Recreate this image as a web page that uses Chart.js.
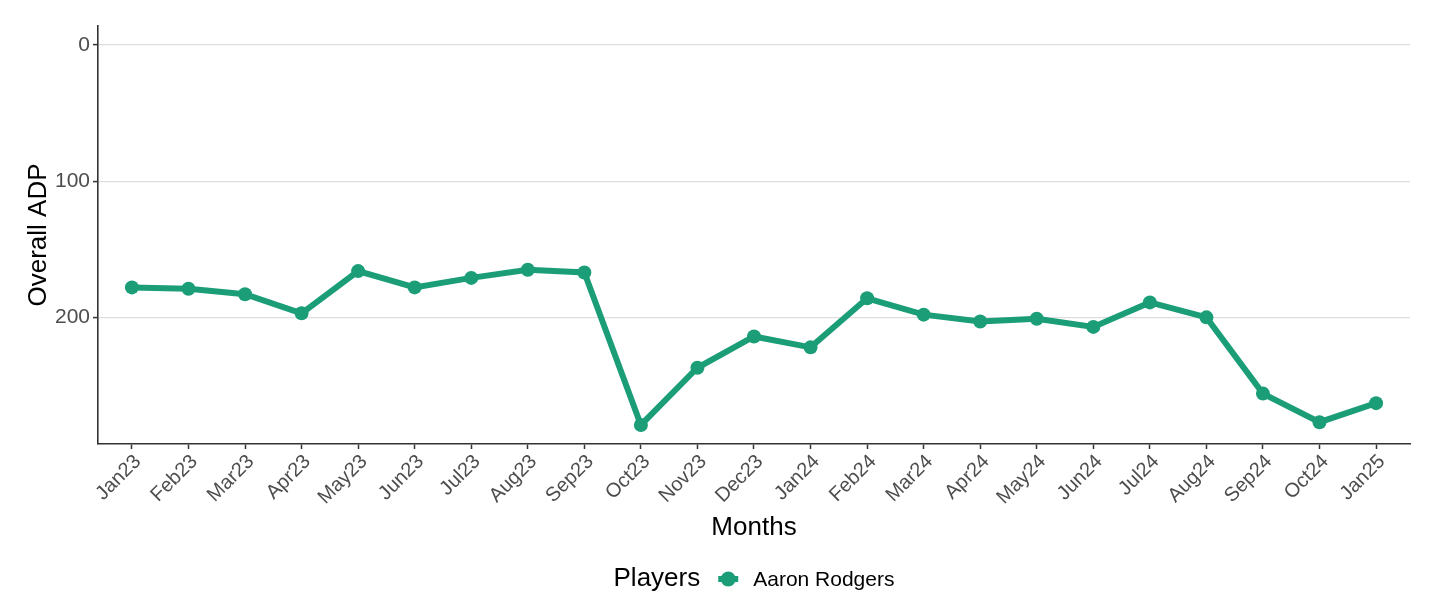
<!DOCTYPE html>
<html>
<head>
<meta charset="utf-8">
<script src="https://cdn.jsdelivr.net/npm/chart.js@4"></script>
<style>
  html, body { margin: 0; padding: 0; background: #fff; }
  #wrap { width: 1432px; height: 605px; }
</style>
</head>
<body>
<div id="wrap"><canvas id="chart"></canvas></div>
<script>
var months = ['Jan23', 'Feb23', 'Mar23', 'Apr23', 'May23', 'Jun23', 'Jul23', 'Aug23', 'Sep23',
  'Oct23', 'Nov23', 'Dec23', 'Jan24', 'Feb24', 'Mar24', 'Apr24', 'May24', 'Jun24', 'Jul24',
  'Aug24', 'Sep24', 'Oct24', 'Jan25'];
var adp = [178, 179, 183, 197, 166, 178, 171, 165, 167,
  279, 237, 214, 222, 186, 198, 203, 201, 207, 189,
  200, 256, 277, 263];
var playerName = 'Aaron Rodgers';
var legendTitle = 'Players';
var yTicks = [0, 100, 200];
var yMin = -14, yMax = 293;

var lineColor = '#1b9e77';
var axisColor = '#333333';
var tickText = '#4d4d4d';
var fontFamily = '"Liberation Sans", Arial, Helvetica, sans-serif';

Chart.defaults.font.family = fontFamily;

// legend drawn by hand so the title can sit on the same row as the key
var inlineLegend = {
  id: 'inlineLegend',
  afterDraw: function(chart) {
    var ctx = chart.ctx;
    var area = chart.chartArea;
    var y = 579;
    ctx.save();
    ctx.font = '26px ' + fontFamily;
    var wTitle = ctx.measureText(legendTitle).width;
    ctx.font = '21px ' + fontFamily;
    var wLabel = ctx.measureText(playerName).width;
    var total = wTitle + 18 + 20 + 15 + wLabel;
    var x = (area.left + area.right) / 2 - total / 2;

    ctx.fillStyle = '#000';
    ctx.textBaseline = 'middle';
    ctx.font = '26px ' + fontFamily;
    ctx.fillText(legendTitle, x, y);
    x += wTitle + 18;

    ctx.strokeStyle = lineColor;
    ctx.lineWidth = 6;
    ctx.beginPath();
    ctx.moveTo(x, y);
    ctx.lineTo(x + 20, y);
    ctx.stroke();
    ctx.fillStyle = lineColor;
    ctx.beginPath();
    ctx.arc(x + 10, y, 7.5, 0, Math.PI * 2);
    ctx.fill();
    x += 20 + 15;

    ctx.fillStyle = '#000';
    ctx.font = '21px ' + fontFamily;
    ctx.fillText(playerName, x, y + 1);
    ctx.restore();
  }
};

var chart = new Chart(document.getElementById('chart'), {
  type: 'line',
  data: {
    datasets: [{
      label: playerName,
      data: adp.map(function(v, i) { return {x: i, y: v}; }),
      borderColor: lineColor,
      backgroundColor: lineColor,
      borderWidth: 6,
      pointRadius: 7,
      pointBackgroundColor: lineColor,
      pointBorderWidth: 0,
      tension: 0,
      clip: false
    }]
  },
  options: {
    responsive: true,
    maintainAspectRatio: false,
    animation: false,
    devicePixelRatio: 1,
    layout: { padding: { top: 26, right: 22, bottom: 62, left: 0 } },
    plugins: {
      legend: { display: false },
      tooltip: { enabled: false }
    },
    scales: {
      x: {
        type: 'linear',
        min: -0.6,
        max: 22.6,
        afterBuildTicks: function(scale) {
          scale.ticks = months.map(function(m, i) { return {value: i}; });
        },
        afterFit: function(scale) { scale.height = 99; },
        ticks: {
          autoSkip: false,
          minRotation: 45,
          maxRotation: 45,
          padding: 1,
          labelOffset: 6,
          color: tickText,
          font: { size: 20 },
          callback: function(v) { return months[v]; }
        },
        grid: {
          drawOnChartArea: false,
          tickLength: 5,
          tickColor: axisColor,
          tickWidth: 1.5
        },
        border: { color: axisColor, width: 1.6 },
        title: {
          display: true,
          text: 'Months',
          color: '#000',
          font: { size: 26 },
          padding: { top: 4, bottom: 0 }
        }
      },
      y: {
        type: 'linear',
        reverse: true,
        min: yMin,
        max: yMax,
        afterBuildTicks: function(scale) {
          scale.ticks = yTicks.map(function(v) { return {value: v}; });
        },
        afterFit: function(scale) { scale.width = 98; },
        ticks: {
          padding: 3,
          color: tickText,
          font: { size: 21 }
        },
        grid: {
          color: '#dedede',
          lineWidth: 1.2,
          tickLength: 5,
          tickColor: axisColor,
          tickWidth: 1.5
        },
        border: { color: axisColor, width: 1.6 },
        title: {
          display: true,
          text: 'Overall ADP',
          color: '#000',
          font: { size: 26 },
          padding: { top: 23, bottom: 0 }
        }
      }
    }
  },
  plugins: [inlineLegend]
});
</script>
</body>
</html>
